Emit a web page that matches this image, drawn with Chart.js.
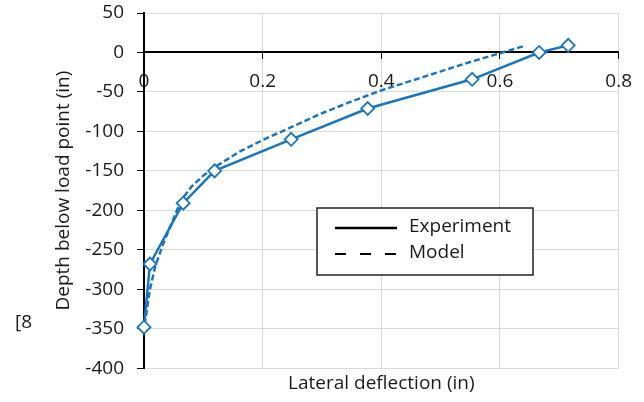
<!DOCTYPE html>
<html>
<head>
<meta charset="utf-8">
<script src="https://cdn.jsdelivr.net/npm/chart.js@4.4.1/dist/chart.umd.min.js"></script>
<style>
  html, body { margin: 0; padding: 0; background: #fff; }
  #wrap { width: 644px; height: 402px; }
</style>
</head>
<body>
<div id="wrap"><canvas id="myChart"></canvas></div>
<script>
// experiment (markers) and model (dashed) curves
var expDeflection = [0, 0.01, 0.066, 0.119, 0.248, 0.377, 0.553, 0.666, 0.715];
var expDepth = [-348, -268, -191, -150, -110, -71, -34, 0, 9];
var modelDeflection = [0.001, 0.004, 0.01, 0.019, 0.033, 0.049, 0.062, 0.08, 0.1, 0.12, 0.16, 0.2, 0.25, 0.3, 0.35, 0.4, 0.45, 0.5, 0.55, 0.6, 0.64];
var modelDepth = [-345, -330, -300, -271, -241, -212, -188, -170, -156, -145, -126, -111, -94, -77, -62, -48, -36, -24, -12, -1, 8];
var legendLabels = ["Experiment", "Model"];

var blue = '#1b75bc';

function toPoints(xs, ys) {
    return xs.map(function (x, i) { return {x: x, y: ys[i]}; });
}

Chart.defaults.font.family = "'Open Sans', sans-serif";
Chart.defaults.font.size = 19;
Chart.defaults.color = '#1a1a1a';

// boxed legend inside the plot, plus the stray "[8" fragment on the left
var extras = {
    id: 'extras',
    afterDraw: function (chart) {
        var ctx = chart.ctx;
        var a = chart.chartArea;
        var left = a.left + 173, top = a.top + 195;
        ctx.save();
        ctx.fillStyle = '#fff';
        ctx.fillRect(left, top, 216, 67);
        ctx.strokeStyle = '#222';
        ctx.lineWidth = 1.5;
        ctx.strokeRect(left, top, 216, 67);

        ctx.strokeStyle = '#000';
        ctx.lineWidth = 2.5;
        ctx.beginPath();
        ctx.moveTo(left + 18, top + 20);
        ctx.lineTo(left + 80, top + 20);
        ctx.stroke();
        ctx.setLineDash([11, 14]);
        ctx.lineWidth = 2;
        ctx.beginPath();
        ctx.moveTo(left + 18, top + 46);
        ctx.lineTo(left + 80, top + 46);
        ctx.stroke();
        ctx.setLineDash([]);

        ctx.fillStyle = '#1a1a1a';
        ctx.font = "19px 'Open Sans', sans-serif";
        ctx.textBaseline = 'middle';
        ctx.textAlign = 'left';
        ctx.fillText(legendLabels[0], left + 92, top + 19);
        ctx.fillText(legendLabels[1], left + 92, top + 45);

        ctx.fillText('[8', 15, 323);
        ctx.restore();
    }
};

var ctx = document.getElementById("myChart");
var myChart = new Chart(ctx, {
    type: 'line',
    data: {
        datasets: [{
            label: legendLabels[0],
            data: toPoints(expDeflection, expDepth),
            borderColor: blue,
            borderWidth: 2.5,
            pointStyle: 'rectRot',
            pointRadius: 6.5,
            pointBorderWidth: 1.8,
            pointBackgroundColor: '#fff',
            pointBorderColor: blue,
            tension: 0,
            clip: false
        }, {
            label: legendLabels[1],
            data: toPoints(modelDeflection, modelDepth),
            borderColor: blue,
            borderWidth: 2.5,
            borderDash: [6, 3],
            pointRadius: 0,
            tension: 0,
            clip: false
        }]
    },
    options: {
        responsive: true,
        maintainAspectRatio: false,
        animation: false,
        layout: {
            padding: {left: 0, right: 24, top: 13, bottom: 3}
        },
        plugins: {
            legend: {display: false},
            tooltip: {enabled: false}
        },
        scales: {
            x: {
                type: 'linear',
                position: {y: 0},
                min: 0,
                max: 0.8,
                ticks: {stepSize: 0.2, padding: 12},
                grid: {color: '#d9d9d9', tickColor: '#000', tickLength: 6},
                border: {color: '#000', width: 2}
            },
            xt: {
                type: 'linear',
                axis: 'x',
                position: 'bottom',
                min: 0,
                max: 0.8,
                ticks: {display: false},
                grid: {display: false, drawTicks: false},
                border: {display: false},
                title: {display: true, text: 'Lateral deflection (in)', padding: {top: 4, bottom: 4}}
            },
            y: {
                type: 'linear',
                min: -400,
                max: 50,
                ticks: {stepSize: 50, padding: 13},
                grid: {color: '#d9d9d9', tickColor: '#000', tickLength: 7},
                border: {color: '#000', width: 2},
                title: {display: true, text: 'Depth below load point (in)', padding: {top: 52, bottom: 0}},
                afterFit: function (scale) {
                    scale.width = 144;
                    scale.paddingTop = 11;
                }
            }
        }
    },
    plugins: [extras]
});
</script>
</body>
</html>
